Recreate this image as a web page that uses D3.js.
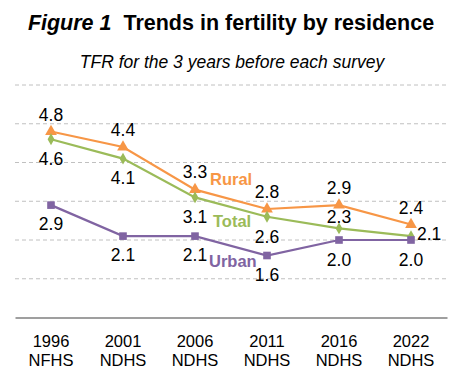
<!DOCTYPE html>
<html>
<head>
<meta charset="utf-8">
<script src="https://cdn.jsdelivr.net/npm/d3@7"></script>
<style>
  body { margin: 0; background: #fff; }
  text { font-family: "Liberation Sans", Arial, sans-serif; }
</style>
</head>
<body>
<div id="chart"></div>
<script>
// data
var years = ["1996", "2001", "2006", "2011", "2016", "2022"];
var surveys = ["NFHS", "NDHS", "NDHS", "NDHS", "NDHS", "NDHS"];
var rural = [4.8, 4.4, 3.3, 2.8, 2.9, 2.4];
var total = [4.6, 4.1, 3.1, 2.6, 2.3, 2.1];
var urban = [2.9, 2.1, 2.1, 1.6, 2.0, 2.0];
var yTicks = [0, 1, 2, 3, 4, 5, 6];

var W = 471, H = 376;
var svg = d3.select("#chart").append("svg")
  .attr("width", W).attr("height", H);

// title
var title = svg.append("text")
  .attr("x", 231).attr("y", 30)
  .attr("text-anchor", "middle")
  .style("font-size", "21.5px").style("font-weight", "bold");
title.append("tspan").style("font-style", "italic").text("Figure 1");
title.append("tspan").text("\u00a0 Trends in fertility by residence");

svg.append("text")
  .attr("x", 232).attr("y", 68)
  .attr("text-anchor", "middle")
  .style("font-size", "17.5px").style("font-style", "italic")
  .text("TFR for the 3 years before each survey");

// scales
var x = d3.scaleBand().domain(years).range([15, 447]);
var y = d3.scaleLinear().domain([0, 6]).range([317.5, 85]);
var cx = function(i) { return x(years[i]) + x.bandwidth() / 2; };

// gridlines
svg.append("g").selectAll("line")
  .data(yTicks.filter(function(d) { return d > 0; }))
  .enter().append("line")
    .attr("x1", 15).attr("x2", 447)
    .attr("y1", function(d) { return y(d); })
    .attr("y2", function(d) { return y(d); })
    .attr("stroke", "#c0c0c0")
    .attr("stroke-dasharray", "4,3");

// x axis, two-line labels (year / survey)
var xAxis = svg.append("g")
  .attr("transform", "translate(0," + y(0) + ")")
  .call(d3.axisBottom(x).tickSize(0).tickFormat(""));
xAxis.select(".domain").attr("stroke", "#404040").attr("stroke-width", 1.2);
xAxis.selectAll(".tick").each(function(d, i) {
  var g = d3.select(this);
  g.append("text")
    .attr("fill", "#000").attr("text-anchor", "middle")
    .attr("y", 29)
    .style("font-size", "16.5px")
    .text(d);
  g.append("text")
    .attr("fill", "#000").attr("text-anchor", "middle")
    .attr("y", 48)
    .style("font-size", "16.5px")
    .text(surveys[i]);
});

var series = [
  {name: "Rural", vals: rural, color: "#F79646", shape: d3.symbolTriangle, size: 60},
  {name: "Total", vals: total, color: "#9BBB59", shape: d3.symbolDiamond, size: 40},
  {name: "Urban", vals: urban, color: "#8064A2", shape: d3.symbolSquare, size: 58}
];

var line = d3.line()
  .x(function(d, i) { return cx(i); })
  .y(function(d) { return y(d); });

series.forEach(function(s) {
  svg.append("path")
    .datum(s.vals)
    .attr("d", line)
    .attr("fill", "none")
    .attr("stroke", s.color)
    .attr("stroke-width", 2.2);
  svg.selectAll(null)
    .data(s.vals)
    .enter().append("path")
      .attr("d", d3.symbol().type(s.shape).size(s.size))
      .attr("transform", function(d, i) { return "translate(" + cx(i) + "," + y(d) + ")"; })
      .attr("fill", s.color);
});

// value labels
var labelOffsets = {
  Rural: [-11, -11, -12, -11, -11, -11],
  Total: [26, 25, 26, 26, -5, 4],
  Urban: [25, 25, 25, 25, 26, 26]
};
series.forEach(function(s) {
  svg.selectAll(null)
    .data(s.vals)
    .enter().append("text")
      .attr("x", function(d, i) {
        return (s.name == "Total" && i == 5) ? cx(i) + 6 : cx(i);
      })
      .attr("y", function(d, i) { return y(d) + labelOffsets[s.name][i]; })
      .attr("text-anchor", function(d, i) {
        return (s.name == "Total" && i == 5) ? "start" : "middle";
      })
      .style("font-size", "17.5px")
      .attr("fill", "#000")
      .text(function(d) { return d3.format(".1f")(d); });
});

// series names
var nameOffsets = {Rural: [15, -5], Total: [18, 30], Urban: [14, 31]};
series.forEach(function(s) {
  svg.append("text")
    .attr("x", cx(2) + nameOffsets[s.name][0])
    .attr("y", y(s.vals[2]) + nameOffsets[s.name][1])
    .attr("fill", s.color)
    .style("font-size", "16.5px").style("font-weight", "bold")
    .text(s.name);
});
</script>
</body>
</html>
